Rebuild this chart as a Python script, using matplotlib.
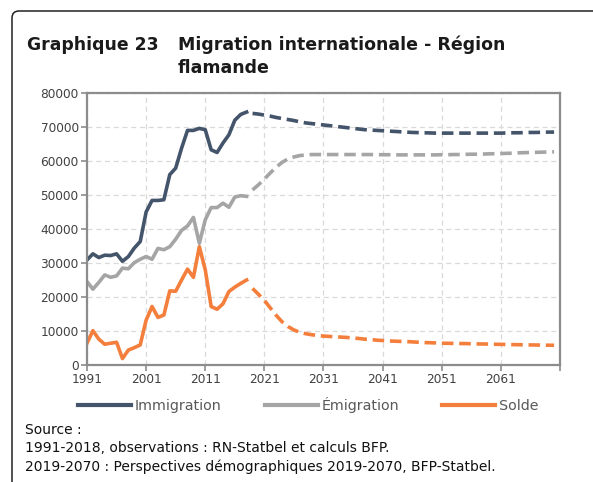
import matplotlib.pyplot as plt
from matplotlib.patches import FancyBboxPatch
from matplotlib.transforms import IdentityTransform

# observations 1991-2018
years_obs = list(range(1991, 2019))
immigration_obs = [30900, 32700, 31600, 32300, 32200, 32700, 30500, 31900, 34400, 36300,
                   45000, 48400, 48400, 48600, 56000, 57900, 63800, 69000, 69000, 69600,
                   69200, 63300, 62500, 65300, 67700, 72000, 73700, 74400]
emigration_obs = [24500, 22300, 24300, 26500, 25800, 26200, 28500, 28300, 30100, 31100,
                  31900, 31100, 34300, 33900, 34800, 37000, 39600, 40900, 43400, 35800,
                  42700, 46300, 46300, 47600, 46400, 49400, 49800, 49600]
solde_obs = [6400, 10100, 7600, 6100, 6400, 6700, 1900, 4400, 5100, 5900,
             13200, 17200, 14000, 14700, 21800, 21700, 25000, 28200, 25800, 34800,
             28000, 17200, 16400, 18000, 21600, 22900, 24000, 25000]

# perspectives 2019-2070
years_proj = list(range(2019, 2071))
immigration_proj = [74000, 73800, 73500, 73200, 72800, 72500, 72200, 71900, 71500, 71200,
                    71000, 70800, 70600, 70400, 70200, 70000, 69800, 69600, 69400, 69200,
                    69100, 69000, 68900, 68800, 68700, 68600, 68500, 68400, 68350, 68300,
                    68250, 68200, 68200, 68200, 68200, 68200, 68200, 68200, 68200, 68200,
                    68200, 68200, 68200, 68250, 68300, 68300, 68350, 68400, 68400, 68450,
                    68500, 68500]
emigration_proj = [51500, 53000, 54700, 56500, 58200, 59600, 60600, 61200, 61600, 61800,
                   61900, 61900, 61900, 61900, 61900, 61900, 61900, 61900, 61900, 61900,
                   61900, 61850, 61850, 61850, 61800, 61800, 61800, 61800, 61800, 61800,
                   61800, 61800, 61850, 61850, 61900, 61900, 61950, 62000, 62000, 62050,
                   62100, 62150, 62200, 62250, 62300, 62400, 62450, 62500, 62550, 62600,
                   62650, 62700]
solde_proj = [22500, 20800, 19000, 16800, 14600, 12700, 11300, 10300, 9600, 9200,
              8900, 8700, 8500, 8400, 8300, 8200, 8100, 7900, 7800, 7600,
              7500, 7300, 7200, 7100, 7000, 6950, 6900, 6800, 6700, 6600,
              6550, 6500, 6400, 6380, 6350, 6320, 6300, 6250, 6200, 6180,
              6150, 6100, 6070, 6040, 6000, 5970, 5940, 5900, 5880, 5850,
              5820, 5800]

c_imm = '#44546a'
c_emi = '#a5a5a5'
c_sol = '#f47f3c'
spine_c = '#8c8c8c'
txt_c = '#404040'

fig = plt.figure(figsize=(5.93, 4.82), dpi=100)
ax = fig.add_axes([87 / 593, 1 - 365 / 482, 473 / 593, 272 / 482])

lw = 2.6
dash = (3.2, 1.6)
ax.plot(years_obs, immigration_obs, color=c_imm, lw=lw, solid_joinstyle='round', label='Immigration')
ax.plot(years_obs, emigration_obs, color=c_emi, lw=lw, solid_joinstyle='round', label='Émigration')
ax.plot(years_obs, solde_obs, color=c_sol, lw=lw, solid_joinstyle='round', label='Solde')
ax.plot(years_proj, immigration_proj, color=c_imm, lw=lw, dashes=dash)
ax.plot(years_proj, emigration_proj, color=c_emi, lw=lw, dashes=dash)
ax.plot(years_proj, solde_proj, color=c_sol, lw=lw, dashes=dash)

ax.set_xlim(1991, 2071)
ax.set_ylim(0, 80000)
xt = list(range(1991, 2072, 10))
ax.set_xticks(xt)
ax.set_xticklabels([str(t) for t in xt[:-1]] + [''])
ax.set_yticks(range(0, 80001, 10000))
ax.grid(True, color='#d9d9d9', linestyle=(0, (4, 3)), linewidth=0.9)
ax.set_axisbelow(True)
for s in ax.spines.values():
    s.set_color(spine_c)
    s.set_linewidth(1.6)
ax.tick_params(direction='out', length=4, width=1.2, color=spine_c,
               labelsize=8.7, labelcolor=txt_c, pad=2)

leg = fig.legend(loc='center left', bbox_to_anchor=(78 / 593, 1 - 405 / 482), ncol=3,
                 frameon=False, borderpad=0, borderaxespad=0,
                 handlelength=3.7, handletextpad=0.28, columnspacing=3.0,
                 fontsize=10.3)
for t in leg.get_texts():
    t.set_color('#595959')
for h in leg.get_lines():
    h.set_linewidth(3)

# titre
fig.text(27 / 593, 1 - 45 / 482, 'Graphique 23', fontsize=12.4, fontweight='bold',
         va='center', ha='left', color='#1a1a1a')
fig.text(178 / 593, 1 - 45 / 482, 'Migration internationale - Région', fontsize=12.5,
         fontweight='bold', va='center', ha='left', color='#1a1a1a')
fig.text(178 / 593, 1 - 68 / 482, 'flamande', fontsize=12.5, fontweight='bold',
         va='center', ha='left', color='#1a1a1a')

# source
src = ['Source :',
       '1991-2018, observations : RN-Statbel et calculs BFP.',
       '2019-2070 : Perspectives démographiques 2019-2070, BFP-Statbel.']
for i, line in enumerate(src):
    fig.text(25 / 593, 1 - (430 + 18.3 * i) / 482, line, fontsize=10,
             va='center', ha='left', color='#111111')

# cadre
frame = FancyBboxPatch((12, -30), 640, 482 - 11 + 30, boxstyle='round,pad=0,rounding_size=7',
                       transform=IdentityTransform(), fill=False, edgecolor='#222222',
                       linewidth=1.1)
fig.patches.append(frame)

fig.savefig('out.png', dpi=100)
